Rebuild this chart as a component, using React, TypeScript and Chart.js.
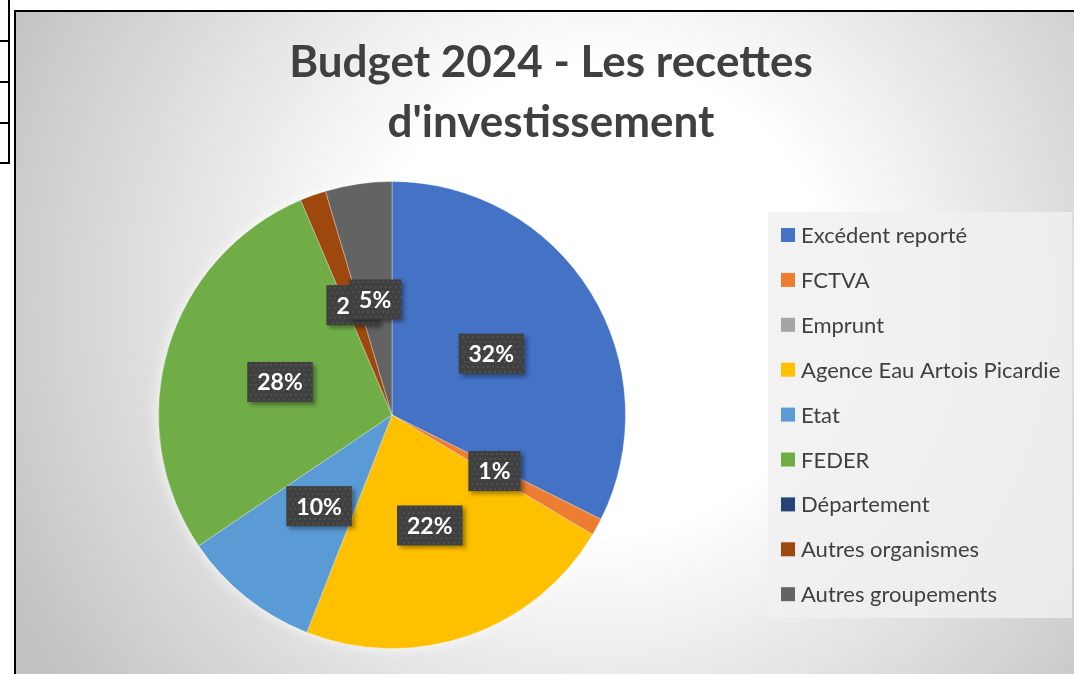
import React, { useEffect, useRef } from "react";
import { Chart, registerables } from "chart.js";

Chart.register(...registerables);

const categories = [
  "Excédent reporté",
  "FCTVA",
  "Emprunt",
  "Agence Eau Artois Picardie",
  "Etat",
  "FEDER",
  "Département",
  "Autres organismes",
  "Autres groupements",
];
const shares = [32.4, 1.2, 0, 22.4, 9.6, 28.1, 0, 1.8, 4.6];
const sliceColors = [
  "#4472C4",
  "#ED7D31",
  "#A5A5A5",
  "#FFC000",
  "#5B9BD5",
  "#70AD47",
  "#264478",
  "#9E480E",
  "#636363",
];
const titleLines = ["Budget 2024 - Les recettes", "d'investissement"];

const FONT = "Lato, 'Open Sans', sans-serif";

const decorPlugin = {
  id: "decor",
  beforeDraw(chart: any) {
    const ctx = chart.ctx as CanvasRenderingContext2D;
    const W = chart.width;
    const H = chart.height;
    ctx.save();
    ctx.fillStyle = "#ffffff";
    ctx.fillRect(0, 0, W, H);
    // left table fragment
    ctx.fillStyle = "#000000";
    ctx.fillRect(8, 0, 2, 164);
    [40, 81, 122, 162].forEach((y) => ctx.fillRect(0, y, 10, 2));
    // frame background
    const g = ctx.createRadialGradient(600, 300, 0, 600, 300, 660);
    g.addColorStop(0, "#ffffff");
    g.addColorStop(0.35, "#ffffff");
    g.addColorStop(1, "#c2c2c2");
    ctx.fillStyle = g;
    ctx.fillRect(15, 10, W - 15, H - 10);
    ctx.fillStyle = "#000000";
    ctx.fillRect(14, 10, 2, H - 10);
    ctx.fillRect(14, 10, W - 14, 2);
    // title
    ctx.fillStyle = "#404040";
    ctx.font = `bold 44px ${FONT}`;
    ctx.textAlign = "center";
    ctx.textBaseline = "alphabetic";
    ctx.fillText(titleLines[0], 551, 77);
    ctx.fillText(titleLines[1], 551, 137);
    // legend box
    ctx.fillStyle = "rgba(240,240,240,0.85)";
    ctx.fillRect(768, 212, 304, 406);
    ctx.restore();
  },
  beforeDatasetsDraw(chart: any) {
    const ctx = chart.ctx as CanvasRenderingContext2D;
    const arc = chart.getDatasetMeta(0).data[0] as any;
    if (!arc) return;
    ctx.save();
    ctx.shadowColor = "rgba(255,255,255,0.95)";
    ctx.shadowBlur = 14;
    ctx.fillStyle = "#888888";
    ctx.beginPath();
    ctx.arc(arc.x, arc.y, arc.outerRadius - 1, 0, Math.PI * 2);
    ctx.fill();
    ctx.restore();
  },
  afterDatasetsDraw(chart: any) {
    const ctx = chart.ctx as CanvasRenderingContext2D;
    const meta = chart.getDatasetMeta(0);
    const data = chart.data.datasets[0].data as number[];
    const total = data.reduce((a, b) => a + b, 0);
    ctx.save();
    ctx.font = `bold 23px ${FONT}`;
    ctx.textAlign = "center";
    ctx.textBaseline = "middle";
    meta.data.forEach((arc: any, i: number) => {
      if (!data[i]) return;
      const txt = Math.round((data[i] / total) * 100) + "%";
      const p = arc.getCenterPoint();
      const tw = ctx.measureText(txt).width;
      const bw = tw + 20;
      const bh = 40;
      const x0 = p.x - bw / 2;
      const y0 = p.y - bh / 2;
      ctx.save();
      ctx.shadowColor = "rgba(0,0,0,0.35)";
      ctx.shadowBlur = 4;
      ctx.shadowOffsetX = 3;
      ctx.shadowOffsetY = 3;
      ctx.fillStyle = "#404040";
      ctx.fillRect(x0, y0, bw, bh);
      ctx.restore();
      ctx.fillStyle = "#4f4f4f";
      for (let yy = y0 + 2; yy < y0 + bh - 1; yy += 5) {
        for (let xx = x0 + 2 + (((yy - y0) / 5) % 2) * 2.5; xx < x0 + bw - 1; xx += 5) {
          ctx.fillRect(Math.round(xx), Math.round(yy), 2, 2);
        }
      }
      ctx.fillStyle = "#ffffff";
      ctx.fillText(txt, p.x, p.y + 1);
    });
    ctx.restore();
  },
  afterDraw(chart: any) {
    const ctx = chart.ctx as CanvasRenderingContext2D;
    const labels = chart.data.labels as string[];
    const colors = chart.data.datasets[0].backgroundColor as string[];
    ctx.save();
    ctx.font = `22px ${FONT}`;
    ctx.textAlign = "left";
    ctx.textBaseline = "middle";
    labels.forEach((lab, i) => {
      const y = 235 + i * 44.9;
      ctx.fillStyle = colors[i];
      ctx.fillRect(781, y - 7, 14, 14);
      ctx.fillStyle = "#404040";
      ctx.fillText(lab, 801, y + 1);
    });
    ctx.restore();
  },
};

export default function App() {
  const ref = useRef<HTMLCanvasElement | null>(null);
  useEffect(() => {
    if (!ref.current) return;
    const chart = new Chart(ref.current, {
      type: "pie",
      data: {
        labels: categories,
        datasets: [
          {
            data: shares,
            backgroundColor: sliceColors,
            borderColor: "rgba(255,255,255,0.35)",
            borderWidth: 1,
          },
        ],
      },
      options: {
        animation: false,
        responsive: false,
        events: [],
        layout: { padding: { left: 158, right: 448, top: 181, bottom: 25 } },
        plugins: {
          legend: { display: false },
          title: { display: false },
          tooltip: { enabled: false },
        },
      },
      plugins: [decorPlugin],
    });
    return () => chart.destroy();
  }, []);
  return (
    <div style={{ position: "fixed", left: 0, top: 0, width: 1074, height: 674 }}>
      <canvas ref={ref} width={1074} height={674} style={{ display: "block" }} />
    </div>
  );
}
